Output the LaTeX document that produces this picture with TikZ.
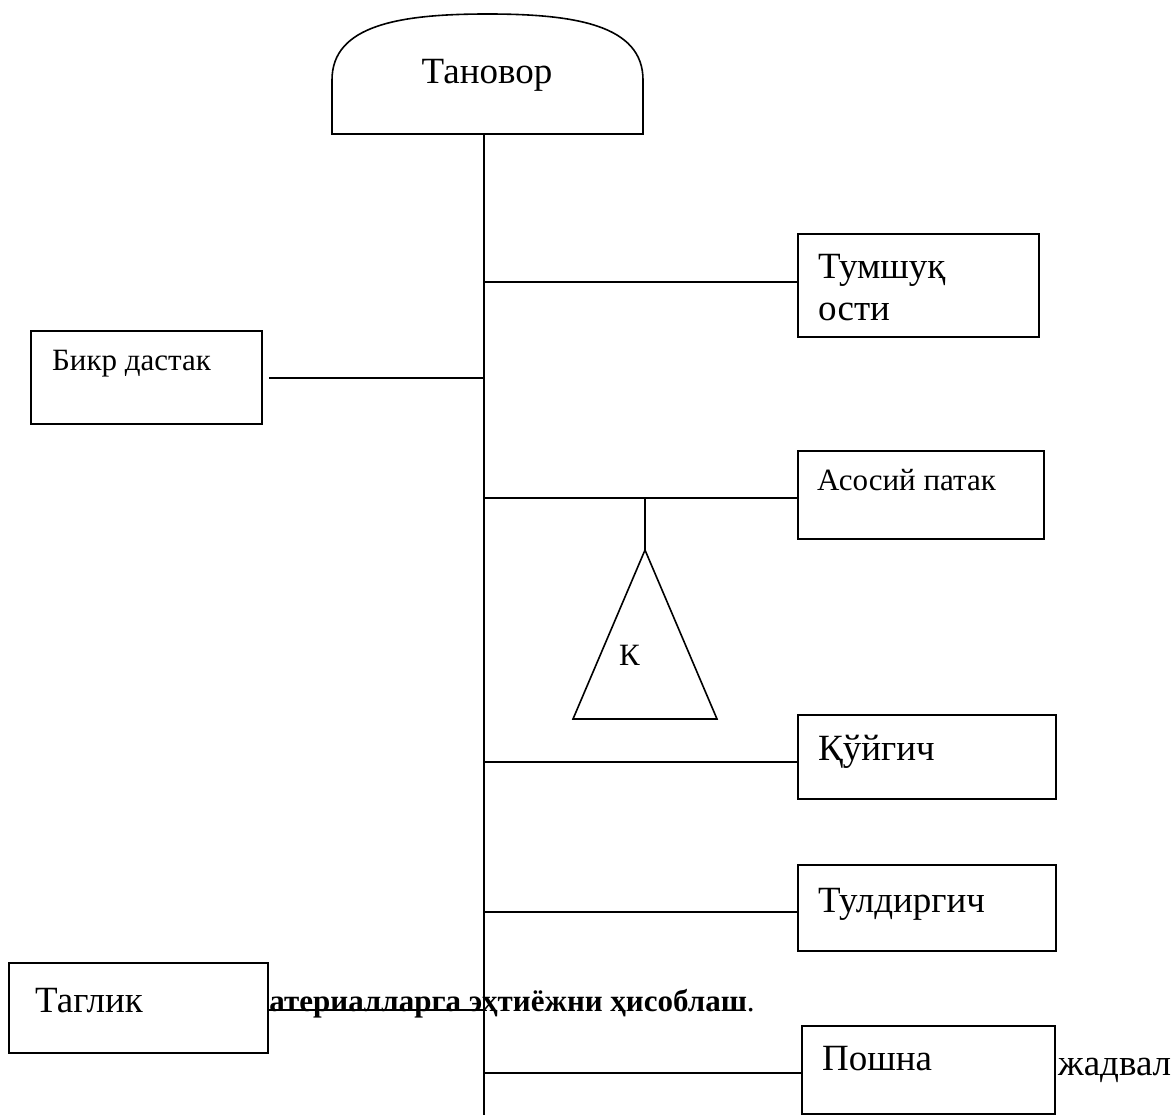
\documentclass[tikz,border=0pt]{standalone}
\usepackage{fontspec}
\setmainfont{Liberation Serif}
\begin{document}
\begin{tikzpicture}[x=1pt,y=-1pt,
  ln/.style={line width=1.6pt, line cap=rect},
  box/.style={draw, line width=1.6pt, fill=white, anchor=north west, inner sep=0pt},
  big/.style={font=\fontsize{37}{41}\selectfont, inner sep=0pt, anchor=base west},
  small/.style={font=\fontsize{31}{35}\selectfont, inner sep=0pt, anchor=base west}]
\useasboundingbox (0,0) rectangle (1175,1115);

% bold caption text (under everything)
\node[font=\fontsize{31}{35}\selectfont, inner sep=0pt, anchor=base west] (cap) at (240,1011) {\textbf{Материалларга эҳтиёжни ҳисоблаш}.};

% dome
\draw[line width=1.6pt, fill=white] (332,134) -- (332,80) .. controls (332,25) and (400,14) .. (487.5,14)
  .. controls (575,14) and (643,25) .. (643,80) -- (643,134) -- cycle;
\coordinate (top) at (484,134);
\node[font=\fontsize{37}{41}\selectfont, inner sep=0pt, anchor=base] (tanovor) at (487,84) {Тановор};

% main line
\coordinate (bot) at (484,1115);
\draw[ln] (top) -- (bot);

% junctions
\coordinate (j1) at (484,282);
\coordinate (j2) at (484,378);
\coordinate (j3) at (484,498);
\coordinate (j4) at (484,762);
\coordinate (j5) at (484,912);
\coordinate (j6) at (484,1010);
\coordinate (j7) at (484,1073);
\coordinate (k) at (645,498);

% boxes
\node[box, minimum width=241pt, minimum height=103pt] (tumshuq) at (797,233) {};
\node[box, minimum width=231pt, minimum height=93pt] (bikr) at (30,330) {};
\node[box, minimum width=246pt, minimum height=88pt] (asosiy) at (797,450) {};
\node[box, minimum width=258pt, minimum height=84pt] (quygich) at (797,714) {};
\node[box, minimum width=258pt, minimum height=86pt] (tuldir) at (797,864) {};
\node[box, minimum width=253pt, minimum height=88pt] (poshna) at (801,1025) {};

% connectors
\draw[ln] (j1) -- (j1 -| tumshuq.west);
\draw[ln] (j2) -- ([xshift=7pt]j2 -| bikr.east);
\draw[ln] (j3) -- (j3 -| asosiy.west);
\draw[ln] (j4) -- (j4 -| quygich.west);
\draw[ln] (j5) -- (j5 -| tuldir.west);
\draw[ln] (j7) -- (j7 -| poshna.west);

% Taglik box and connector
\node[box, minimum width=259pt, minimum height=90pt] (taglik) at (8,962) {};
\draw[ln] (j6) -- (j6 -| taglik.east);

% triangle
\coordinate (apex) at (645,550);
\coordinate (bl) at (573,719);
\coordinate (br) at (717,719);
\draw[ln] (k) -- (apex);
\draw[line width=1.6pt, line join=miter] (apex) -- (br) -- (bl) -- cycle;

% texts
\node[big] (t1) at (818,279) {Тумшуқ};
\node[big] (t1b) at (818,320) {ости};
\node[small] (t2) at (52,370) {Бикр дастак};
\node[small] (t3) at (817,490) {Асосий патак};
\node[small] (tk) at (619,665) {К};
\node[big] (t4) at (818,760) {Қўйгич};
\node[big] (t5) at (818,912) {Тулдиргич};
\node[big] (t6) at (35,1012) {Таглик};
\node[big] (t7) at (822,1070) {Пошна};
\node[big] (t8) at (1058,1075) {жадвал};
\end{tikzpicture}
\end{document}
